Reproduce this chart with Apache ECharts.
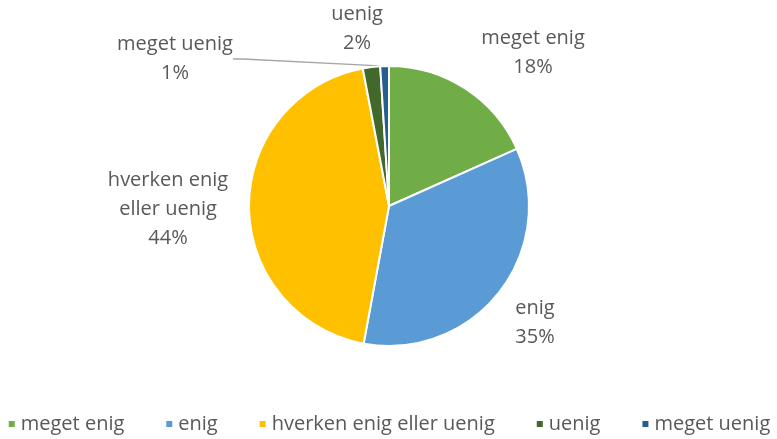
<!DOCTYPE html>
<html><head><meta charset="utf-8">
<script src="https://cdn.jsdelivr.net/npm/echarts@6/dist/echarts.min.js"></script>
<style>html,body{margin:0;padding:0;background:#fff}#c{width:777px;height:439px}</style>
</head><body><div id="c"></div>
<script>
const categories = ['meget enig', 'enig', 'hverken enig eller uenig', 'uenig', 'meget uenig'];
const labelTexts = ['meget enig', 'enig', 'hverken enig\neller uenig', 'uenig', 'meget uenig'];
const values = [18.3, 34.6, 44.1, 2.0, 1.0];
const percentLabels = ['18%', '35%', '44%', '2%', '1%'];
const colors = ['#70AD47', '#5B9BD5', '#FFC000', '#43682B', '#255E91'];

const labelPos = [[533, 53], [535, 323], [168, 209], [357, 29], [175, 59]];
const FONT = 'Open Sans';
const chart = echarts.init(document.getElementById('c'));
chart.setOption({
  animation: false,
  color: colors,
  legend: {
    bottom: 0, left: 'center', icon: 'rect', itemWidth: 8, itemHeight: 8, itemGap: 40,
    textStyle: { fontFamily: FONT, fontSize: 20, color: '#595959' },
    data: categories
  },
  series: [{
    type: 'pie',
    center: [389, 206],
    radius: 140,
    startAngle: 90,
    clockwise: true,
    itemStyle: { borderColor: '#fff', borderWidth: 2 },
    data: categories.map((c, i) => ({
      name: c, value: values[i],
      labelLine: { show: i === 4, lineStyle: { color: '#A6A6A6', width: 1.3 }, length: 10, length2: 10 }
    })),
    label: {
      fontFamily: FONT, fontSize: 20, color: '#595959', lineHeight: 29, align: 'center',
      formatter: p => labelTexts[p.dataIndex] + '\n' + percentLabels[p.dataIndex]
    },
    labelLayout: function (p) {
      const pos = labelPos[p.dataIndex];
      return { x: pos[0], y: pos[1], align: 'center', verticalAlign: 'middle' };
    }
  }]
});
</script></body></html>
